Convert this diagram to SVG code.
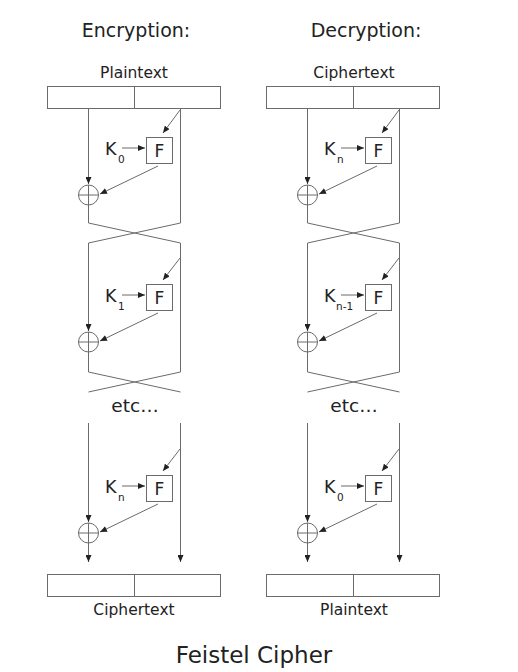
<svg xmlns="http://www.w3.org/2000/svg" width="518" height="672" viewBox="0 0 518 672">
<style>
.t{font-family:"DejaVu Sans","Liberation Sans",sans-serif;fill:#222}
.ln{fill:none;stroke:#6b6b6b;stroke-width:1}
.ar{fill:none;stroke:#6b6b6b;stroke-width:1;marker-end:url(#ah)}
.bx{fill:#fff;stroke:#6b6b6b;stroke-width:1}
.x{fill:none;stroke:#6b6b6b;stroke-width:1}
</style>
<defs>
<marker id="ah" viewBox="0 0 7 6" markerWidth="7" markerHeight="6" refX="7" refY="3" orient="auto" markerUnits="userSpaceOnUse">
<path d="M0,0 L7,3 L0,6 z" fill="#222"/>
</marker>
<g id="xorShape"><circle cx="0" cy="0" r="10" class="x"/><path d="M-10,0 H10 M0,-10 V10" class="x"/></g>
</defs>
<rect width="518" height="672" fill="#fff"/>

<g id="titles">
<text class="t" x="136" y="37" font-size="19" text-anchor="middle">Encryption:</text>
<text class="t" x="366" y="37" font-size="19" text-anchor="middle">Decryption:</text>
<text class="t" x="254" y="663" font-size="23" text-anchor="middle">Feistel Cipher</text>
</g>

<g id="connectors">
<!-- Encryption -->
<path class="ar" d="M88.5,108 V184"/>
<path class="ln" d="M88.5,205 V223 L180.5,243 V372 L88.5,392"/>
<path class="ar" d="M180.5,108 V223 L88.5,243 V331"/>
<path class="ln" d="M88.5,352 V372 L180.5,392"/>
<path class="ar" d="M180,110 L163,133"/>
<path class="ar" d="M158,166 L100,194"/>
<path class="ar" d="M122,148 H145"/>
<path class="ar" d="M180,258 L163,280"/>
<path class="ar" d="M158,313 L100,341"/>
<path class="ar" d="M122,295 H145"/>
<path class="ar" d="M88.5,423 V522"/>
<path class="ar" d="M88.5,543 V562"/>
<path class="ar" d="M180.5,423 V562"/>
<path class="ar" d="M180,449 L163,471"/>
<path class="ar" d="M158,504 L100,532"/>
<path class="ar" d="M122,486 H145"/>
<!-- Decryption -->
<path class="ar" d="M307.5,108 V184"/>
<path class="ln" d="M307.5,205 V223 L399.5,243 V372 L307.5,392"/>
<path class="ar" d="M399.5,108 V223 L307.5,243 V331"/>
<path class="ln" d="M307.5,352 V372 L399.5,392"/>
<path class="ar" d="M399,110 L382,133"/>
<path class="ar" d="M377,166 L319,194"/>
<path class="ar" d="M341,148 H364"/>
<path class="ar" d="M399,258 L382,280"/>
<path class="ar" d="M377,313 L319,341"/>
<path class="ar" d="M341,295 H364"/>
<path class="ar" d="M307.5,423 V522"/>
<path class="ar" d="M307.5,543 V562"/>
<path class="ar" d="M399.5,423 V562"/>
<path class="ar" d="M399,449 L382,471"/>
<path class="ar" d="M377,504 L319,532"/>
<path class="ar" d="M341,486 H364"/>
</g>

<g id="enc-plaintext">
<rect class="bx" x="47.5" y="86.5" width="173" height="22"/>
<path class="ln" d="M134.5,86.5 V108.5"/>
<text class="t" x="134" y="78" font-size="15.5" text-anchor="middle">Plaintext</text>
</g>
<g id="enc-ciphertext">
<rect class="bx" x="47.5" y="574.5" width="173" height="22"/>
<path class="ln" d="M134.5,574.5 V596.5"/>
<text class="t" x="134" y="615" font-size="15.5" text-anchor="middle">Ciphertext</text>
</g>
<g id="dec-ciphertext">
<rect class="bx" x="266.5" y="86.5" width="173" height="22"/>
<path class="ln" d="M353.5,86.5 V108.5"/>
<text class="t" x="354" y="78" font-size="15.5" text-anchor="middle">Ciphertext</text>
</g>
<g id="dec-plaintext">
<rect class="bx" x="266.5" y="574.5" width="173" height="22"/>
<path class="ln" d="M353.5,574.5 V596.5"/>
<text class="t" x="354" y="615" font-size="15.5" text-anchor="middle">Plaintext</text>
</g>

<g id="enc-f1"><rect class="bx" x="146.5" y="137.5" width="26" height="26"/><text class="t" x="159.5" y="157" font-size="17" text-anchor="middle">F</text></g>
<g id="enc-f2"><rect class="bx" x="146.5" y="284.5" width="26" height="26"/><text class="t" x="159.5" y="304" font-size="17" text-anchor="middle">F</text></g>
<g id="enc-f3"><rect class="bx" x="146.5" y="475.5" width="26" height="26"/><text class="t" x="159.5" y="495" font-size="17" text-anchor="middle">F</text></g>
<g id="dec-f1"><rect class="bx" x="365.5" y="137.5" width="26" height="26"/><text class="t" x="378.5" y="157" font-size="17" text-anchor="middle">F</text></g>
<g id="dec-f2"><rect class="bx" x="365.5" y="284.5" width="26" height="26"/><text class="t" x="378.5" y="304" font-size="17" text-anchor="middle">F</text></g>
<g id="dec-f3"><rect class="bx" x="365.5" y="475.5" width="26" height="26"/><text class="t" x="378.5" y="495" font-size="17" text-anchor="middle">F</text></g>

<g id="enc-k1"><text class="t" x="105" y="155" font-size="17.5">K</text><text class="t" x="118" y="163" font-size="10.5">0</text></g>
<g id="enc-k2"><text class="t" x="105" y="302" font-size="17.5">K</text><text class="t" x="118" y="310" font-size="10.5">1</text></g>
<g id="enc-k3"><text class="t" x="105" y="493" font-size="17.5">K</text><text class="t" x="118" y="501" font-size="10.5">n</text></g>
<g id="dec-k1"><text class="t" x="324" y="155" font-size="17.5">K</text><text class="t" x="337" y="163" font-size="10.5">n</text></g>
<g id="dec-k2"><text class="t" x="324" y="302" font-size="17.5">K</text><text class="t" x="336" y="310" font-size="10.5">n-1</text></g>
<g id="dec-k3"><text class="t" x="324" y="493" font-size="17.5">K</text><text class="t" x="337" y="501" font-size="10.5">0</text></g>

<g id="enc-xor1"><use href="#xorShape" x="88.5" y="195"/></g>
<g id="enc-xor2"><use href="#xorShape" x="88.5" y="342"/></g>
<g id="enc-xor3"><use href="#xorShape" x="88.5" y="533"/></g>
<g id="dec-xor1"><use href="#xorShape" x="307.5" y="195"/></g>
<g id="dec-xor2"><use href="#xorShape" x="307.5" y="342"/></g>
<g id="dec-xor3"><use href="#xorShape" x="307.5" y="533"/></g>

<g id="etc">
<text class="t" x="135" y="412" font-size="18.5" text-anchor="middle">etc…</text>
<text class="t" x="354" y="412" font-size="18.5" text-anchor="middle">etc…</text>
</g>
</svg>
